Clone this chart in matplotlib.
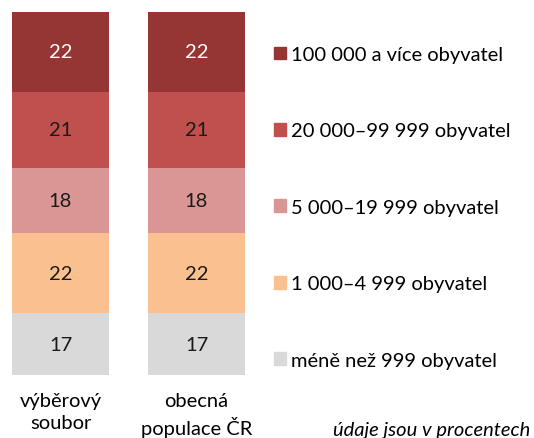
import matplotlib
matplotlib.use('Agg')
import matplotlib.pyplot as plt
from matplotlib.patches import Patch

plt.rcParams['font.family'] = ['Lato', 'DejaVu Sans']

# Data (procenta), od spodu nahoru
skupiny = ['výběrový\nsoubor', 'obecná\npopulace ČR']
kategorie = ['méně než 999 obyvatel', '1 000–4 999 obyvatel', '5 000–19 999 obyvatel',
             '20 000–99 999 obyvatel', '100 000 a více obyvatel']
vyberovy = [17, 22, 18, 21, 22]
populace = [17, 22, 18, 21, 22]
barvy = ['#D9D9D9', '#FAC090', '#DA9694', '#C0504D', '#963634']
barvy_textu = ['#1a1a1a', '#1a1a1a', '#1a1a1a', '#1a1a1a', 'white']

fig = plt.figure(figsize=(5.34, 4.39), dpi=100)
ax = fig.add_axes([12 / 534, 63 / 439, 233 / 534, 363 / 439])

sirka = 0.713
x = [0, 1]
spodek = [0, 0]
for i, kat in enumerate(kategorie):
    hodnoty = [vyberovy[i], populace[i]]
    bars = ax.bar(x, hodnoty, sirka, bottom=spodek, color=barvy[i], label=kat)
    ax.bar_label(bars, labels=[str(v) for v in hodnoty], label_type='center',
                 color=barvy_textu[i], fontsize=14.5)
    spodek = [s + v for s, v in zip(spodek, hodnoty)]

ax.set_xlim(-sirka / 2, 1 + sirka / 2)
ax.set_ylim(0, 100)
ax.set_xticks(x)
ax.set_xticklabels(skupiny, fontsize=14.5, linespacing=1.38)
ax.tick_params(axis='x', length=0, pad=12)
ax.set_yticks([])
for s in ax.spines.values():
    s.set_visible(False)

# Legenda (od shora dolu)
handles = [Patch(color=barvy[i]) for i in range(len(kategorie) - 1, -1, -1)]
labels = kategorie[::-1]
fig.legend(handles, labels, loc='upper left', bbox_to_anchor=(266 / 534, 1 - 39 / 439),
           frameon=False, fontsize=14.5, handlelength=0.6, handleheight=0.6,
           handletextpad=0.25, labelspacing=2.95, borderaxespad=0)

fig.text(0.993, 0.0, 'údaje jsou v procentech', ha='right', va='bottom',
         fontsize=14.5, style='italic')

fig.savefig('out.png', dpi=100)
plt.close()
